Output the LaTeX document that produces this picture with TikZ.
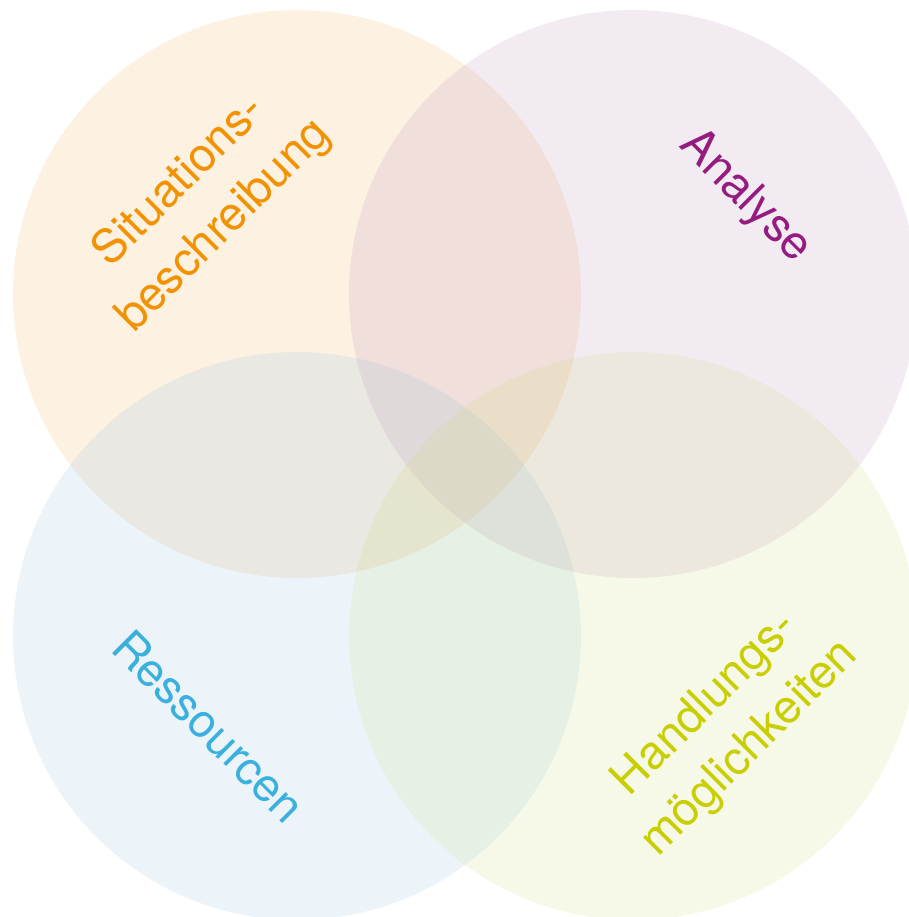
\documentclass[tikz,border=0pt]{standalone}
\usepackage{fontspec}
\setmainfont{TeX Gyre Heros}
\definecolor{sitcol}{RGB}{243,146,0}
\definecolor{anacol}{RGB}{149,27,129}
\definecolor{rescol}{RGB}{58,176,222}
\definecolor{hancol}{RGB}{200,206,0}
\definecolor{sitfill}{RGB}{242,162,62}
\definecolor{anafill}{RGB}{168,122,168}
\definecolor{resfill}{RGB}{128,182,222}
\definecolor{hanfill}{RGB}{202,215,102}
\begin{document}
\begin{tikzpicture}[x=0.75pt,y=0.75pt,yscale=-1,xscale=1,
  circtext/.style={font=\fontsize{35}{47}\selectfont, align=center, inner sep=0.75pt},
  circfill/.style={draw opacity=0, fill opacity=0.15}]
\useasboundingbox (0,0) rectangle (909,917);

%Shape: Circle [id:sit]
\fill [circfill, fill=sitfill] (297,294) circle (284);
%Shape: Circle [id:ana]
\fill [circfill, fill=anafill] (633,294) circle (284);
%Shape: Circle [id:res]
\fill [circfill, fill=resfill] (297,636) circle (284);
%Shape: Circle [id:han]
\fill [circfill, fill=hanfill] (633,636) circle (284);

% Text Node
\node (situation) [circtext, rotate=45, text=sitcol] at (202,204) {Situations-\\beschreibung};
% Text Node
\node (analyse) [circtext, rotate=-45, text=anacol] at (745,197) {Analyse};
% Text Node
\node (ressourcen) [circtext, rotate=-45, text=rescol] at (209,726) {Ressourcen};
% Text Node
\node (handlung) [circtext, rotate=45, text=hancol] at (728,727) {Handlungs-\\möglichkeiten};

\end{tikzpicture}
\end{document}
